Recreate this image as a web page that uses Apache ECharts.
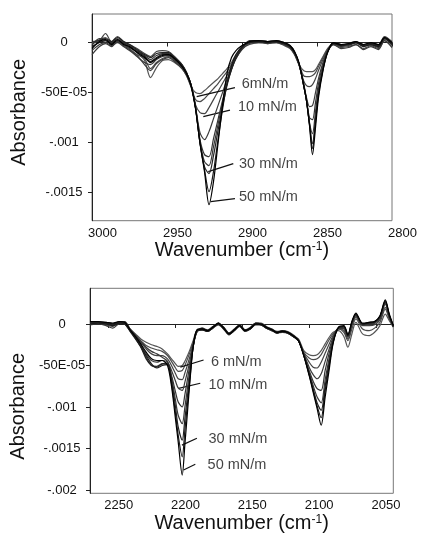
<!DOCTYPE html>
<html>
<head>
<meta charset="utf-8">
<script src="https://cdn.jsdelivr.net/npm/echarts@6/dist/echarts.min.js"></script>
<style>
  html, body { margin: 0; background: #fff; }
  #chart { width: 422px; height: 538px; }
</style>
</head>
<body>
<div id="chart"></div>
<script>
// absorbance values below are in units of 1e-5

// ---- upper panel: CH stretching region ----
const topWn = [3000, 2995, 2991, 2987, 2983, 2979, 2975, 2970, 2965, 2961, 2957, 2953, 2949, 2945, 2940, 2937, 2934,
  2931, 2928, 2925, 2922, 2919, 2916, 2913, 2910, 2907, 2904, 2900,
  2895, 2889, 2883, 2877, 2872, 2868, 2865, 2862, 2859,
  2857, 2855, 2853, 2851, 2849, 2846, 2843,
  2839, 2834, 2829, 2824, 2819, 2814, 2809, 2805, 2800]

const top1 = [-2, 3, 5, 0, 4, 0, -4, -10, -18, -35, -25, -18, -17, -20, -26, -33, -44,
  -50, -51, -48, -44, -40, -36, -31, -26, -20, -12, -5,
  0, 1, 0, 1, -2, -5, -12, -22, -28,
  -29, -29, -29, -27, -22, -14, -6,
  -1, -3, -2, 0, -3, -1, -4, 3, -1]
const top2 = [-5, 1, 2, -2, 2, -2, -6, -12, -16, -26, -20, -16, -14, -18, -25, -32, -43,
  -57, -59, -56, -51, -46, -41, -35, -29, -22, -14, -6,
  -2, 0, -1, 0, -3, -6, -12, -22, -33,
  -34, -34, -33, -30, -24, -15, -7,
  -2, -5, -4, -2, -6, -3, -6, 2, -4]
const top3 = [0, 2, 9, 1, 6, 1, -2, -6, -11, -14, -9, -8, -9, -14, -22, -30, -42,
  -62, -70, -71, -65, -57, -49, -41, -33, -24, -15, -6,
  1, 2, 1, 2, -1, -4, -10, -22, -38,
  -43, -44, -42, -36, -28, -17, -8,
  0, -2, -1, 1, -2, 0, -2, 6, 1]
const top4 = [-8, -2, 0, -3, 0, -4, -8, -14, -20, -22, -17, -14, -13, -17, -24, -31, -42,
  -64, -90, -97, -89, -76, -63, -50, -37, -26, -16, -7,
  -1, 0, 0, 1, -2, -5, -11, -22, -40,
  -55, -64, -63, -50, -36, -20, -8,
  -1, -4, -3, 0, -4, -2, -5, 4, -2]
const top5 = [-3, 4, 3, 0, 3, 0, -3, -8, -13, -17, -13, -11, -11, -15, -23, -30, -42,
  -64, -97, -112, -114, -96, -77, -58, -41, -27, -16, -6,
  2, 2, 1, 2, 0, -3, -9, -21, -41,
  -57, -75, -77, -60, -41, -22, -9,
  0, -2, -2, 1, -3, -1, -3, 5, 0]
const top6 = [-12, -4, -1, -4, 1, -3, -7, -13, -22, -28, -21, -17, -15, -19, -26, -33, -44,
  -65, -99, -119, -123, -104, -82, -60, -41, -26, -15, -5,
  0, 1, -1, 0, -2, -5, -11, -22, -42,
  -58, -80, -91, -69, -46, -24, -9,
  -2, -6, -5, -2, -7, -4, -7, 2, -5]
const top7 = [1, 2, 4, 1, 5, 1, -2, -7, -12, -15, -11, -10, -10, -15, -22, -30, -42,
  -65, -100, -124, -131, -113, -88, -64, -43, -27, -15, -5,
  1, 2, 1, 1, -1, -4, -10, -21, -42,
  -58, -81, -101, -76, -50, -26, -10,
  0, -3, -2, 0, -3, -1, -3, 4, -1]
const top8 = [-4, 0, 2, -1, 2, -1, -5, -9, -14, -19, -15, -12, -12, -16, -23, -31, -42,
  -65, -100, -127, -149, -129, -97, -67, -41, -23, -12, -4,
  0, 1, 0, 1, -1, -4, -10, -21, -42,
  -58, -82, -106, -80, -52, -27, -10,
  -1, -3, -2, 0, -4, -2, -4, 4, -2]
const top9 = [-6, 1, 3, -2, 3, -2, -4, -10, -15, -20, -16, -13, -12, -16, -24, -31, -43,
  -66, -101, -129, -162, -139, -101, -63, -31, -15, -8, -3,
  1, 2, 1, 2, 0, -3, -9, -20, -42,
  -58, -83, -112, -85, -55, -28, -10,
  0, -2, -1, 1, -2, 0, -2, 5, 0]

// ---- lower panel: CD stretching region ----
const botWn = [2264, 2258, 2252, 2247, 2242,
  2238, 2234, 2230, 2226, 2222, 2218, 2214, 2210,
  2206, 2203, 2200, 2198, 2195, 2193, 2191, 2189, 2187, 2184,
  2180, 2176, 2172, 2168, 2164, 2160, 2156, 2152, 2148, 2144, 2140, 2136, 2132, 2128, 2124, 2120, 2116, 2112,
  2108, 2104, 2100, 2097, 2094, 2091, 2088, 2085, 2082,
  2078, 2074, 2071, 2068, 2065, 2060, 2055, 2051, 2047, 2043, 2040, 2037]

const bot1 = [1, 2, 0, -2, 2,
  2, -6, -12, -18, -22, -25, -27, -30,
  -36, -42, -48, -51, -50, -45, -38, -30, -21, -8,
  -7, -8, -5, 1, -5, -13, -8, -2, -9, -5, 1, 0, -4, -8, -10, -8, -10, -15,
  -18, -32, -37, -38, -37, -32, -24, -16, -10,
  -8, -15, -28, -12, 2, -12, -14, -10, -2, 12, 4, -4]
const bot2 = [3, 2, 1, 0, 3,
  1, -7, -14, -20, -26, -29, -31, -33,
  -38, -45, -53, -57, -56, -50, -42, -33, -23, -9,
  -6, -9, -4, 0, -6, -12, -7, -3, -8, -6, 0, -1, -5, -7, -11, -9, -11, -14,
  -19, -34, -41, -43, -42, -37, -28, -19, -12,
  -6, -10, -20, -6, 6, -6, -8, -5, 2, 18, 6, -3]
const bot3 = [0, 1, -1, -3, 1,
  0, -8, -15, -22, -30, -36, -38, -38,
  -42, -50, -60, -66, -67, -59, -49, -38, -25, -9,
  -5, -7, -3, 1, -4, -11, -6, -1, -7, -4, 1, 1, -3, -6, -9, -8, -9, -13,
  -19, -35, -46, -52, -53, -46, -35, -24, -14,
  -6, -8, -18, -2, 8, -2, -2, -1, 5, 20, 8, -2]
const bot4 = [2, 3, 1, -1, 3,
  2, -7, -16, -25, -36, -44, -46, -44,
  -46, -56, -69, -77, -80, -70, -57, -43, -27, -10,
  -6, -8, -4, 0, -5, -12, -7, -2, -8, -5, 0, 0, -4, -7, -10, -9, -10, -14,
  -20, -36, -52, -61, -66, -60, -45, -30, -16,
  -5, -6, -16, 0, 10, -1, 0, 1, 7, 24, 10, -2]
const bot5 = [1, 2, 2, 0, 2,
  1, -8, -17, -27, -40, -50, -51, -48,
  -48, -62, -82, -94, -100, -85, -66, -47, -28, -9,
  -7, -9, -5, -1, -6, -13, -8, -3, -9, -6, -1, -1, -5, -8, -11, -10, -11, -15,
  -20, -37, -56, -69, -78, -80, -56, -35, -18,
  -5, -4, -14, 1, 11, 0, 1, 2, 8, 26, 9, -3]
const bot6 = [-1, 0, -2, -5, 1,
  3, -6, -13, -21, -28, -33, -36, -40,
  -45, -64, -92, -110, -120, -100, -76, -52, -29, -9,
  -5, -8, -4, 1, -5, -12, -7, -2, -8, -5, 0, 0, -4, -7, -10, -9, -10, -14,
  -20, -37, -58, -74, -88, -95, -67, -41, -20,
  -5, -5, -15, 0, 10, -1, 0, 1, 8, 25, 10, -2]
const bot7 = [2, 2, 1, -1, 2,
  0, -9, -18, -28, -42, -50, -52, -48,
  -47, -68, -100, -124, -140, -114, -86, -58, -30, -8,
  -6, -8, -3, 0, -4, -11, -7, -1, -7, -5, 1, 0, -4, -6, -10, -8, -10, -14,
  -20, -38, -60, -78, -95, -104, -75, -46, -21,
  -4, -3, -13, 2, 12, 0, 1, 2, 9, 27, 11, -3]
const bot8 = [0, 1, 0, -2, 1,
  1, -8, -17, -27, -38, -48, -53, -50,
  -49, -72, -108, -134, -160, -128, -95, -62, -30, -8,
  -7, -9, -4, 0, -5, -12, -8, -2, -8, -6, 0, -1, -5, -7, -11, -9, -11, -15,
  -20, -38, -61, -80, -99, -113, -80, -50, -22,
  -4, -3, -14, 2, 12, 0, 2, 3, 9, 28, 10, -3]
const bot9 = [3, 3, 2, 1, 3,
  2, -7, -15, -24, -34, -42, -44, -44,
  -50, -75, -115, -142, -182, -145, -105, -65, -30, -7,
  -6, -8, -4, 1, -5, -12, -7, -2, -8, -5, 0, 0, -4, -7, -10, -9, -10, -14,
  -20, -38, -62, -82, -102, -122, -88, -55, -23,
  -4, -2, -13, 3, 13, 1, 2, 3, 10, 29, 12, -2]

// axis ticks and their printed labels
const topXTicks = [3000, 2950, 2900, 2850, 2800]
const botXTicks = [2250, 2200, 2150, 2100, 2050]
const topYTicks = [0, -50, -100, -150]
const botYTicks = [0, -50, -100, -150, -200]
const yTickText = { '0': '0', '-50': '-50E-05', '-100': '-.001', '-150': '-.0015', '-200': '-.002' }

// surface pressure annotations (text anchor, leader start, leader end)
const topNoteText = ['6mN/m', '10 mN/m', '30 mN/m', '50 mN/m']
const topNoteAt = [[2900.2, -41], [2902.7, -64], [2902, -121], [2902, -154]]
const topLeadFrom = [[2930.2, -54], [2925.8, -74], [2922.5, -129], [2920.9, -159]]
const topLeadTo = [[2904.7, -45], [2908, -67.5], [2905.8, -121], [2904.7, -156]]
const botNoteText = ['6 mN/m', '10 mN/m', '30 mN/m', '50 mN/m']
const botNoteAt = [[2173.5, -46], [2175.3, -73], [2175.3, -139], [2176, -170]]
const botLeadFrom = [[2196.4, -52], [2197.7, -77.5], [2195.2, -146], [2194, -176]]
const botLeadTo = [[2179, -43.4], [2181.5, -71.4], [2184, -137.7], [2185.2, -169]]

const topCurves = [top1, top2, top3, top4, top5, top6, top7, top8, top9]
const botCurves = [bot1, bot2, bot3, bot4, bot5, bot6, bot7, bot8, bot9]
const curveColors = ['#555', '#4a4a4a', '#444', '#3a3a3a', '#333', '#3a3a3a', '#222', '#1a1a1a', '#000']

const FONT = '"Liberation Sans", Arial, Helvetica, sans-serif'

function xAxisOf(grid, min, max, ticks, padLeft) {
  return {
    gridIndex: grid,
    type: 'value',
    min, max,
    inverse: true,
    axisLine: { lineStyle: { color: '#222', width: 1 } },
    axisTick: { length: 4, lineStyle: { color: '#222' }, customValues: ticks },
    axisLabel: {
      customValues: ticks, fontSize: 13, color: '#111', margin: 6, padding: [0, 0, 0, padLeft],
      formatter: v => String(v),
    },
    splitLine: { show: false },
    name: 'Wavenumber (cm{sup|-1})',
    nameLocation: 'middle',
    nameGap: 16,
    nameTextStyle: {
      fontSize: 20, color: '#111',
      rich: { sup: { fontSize: 12, verticalAlign: 'top', lineHeight: 10, color: '#111' } },
    },
  }
}

function yAxisOf(grid, min, max, ticks, namePad) {
  return {
    gridIndex: grid,
    type: 'value',
    min, max,
    axisLine: { show: true, lineStyle: { color: '#222', width: 1 } },
    axisTick: { show: true, length: 4, lineStyle: { color: '#222' }, customValues: ticks },
    axisLabel: {
      customValues: ticks, fontSize: 13, color: '#111', margin: 28, align: 'center',
      padding: [7, 0, 0, 0],
      formatter: v => yTickText[String(v)] ?? String(v),
    },
    splitLine: { show: false },
    name: 'Absorbance',
    nameLocation: 'middle',
    nameGap: 62,
    nameRotate: 90,
    nameTextStyle: { fontSize: 20, color: '#111', padding: namePad },
  }
}

function curveSeries(wn, curves, axis) {
  return curves.map((vals, k) => ({
    type: 'line',
    xAxisIndex: axis,
    yAxisIndex: axis,
    data: wn.map((w, i) => [w, vals[i]]),
    showSymbol: false,
    smooth: 0.3,
    lineStyle: { width: 1.2, color: curveColors[k] },
    z: 2 + k,
  }))
}

function noteSeries(axis, texts, at, from, to) {
  return {
    type: 'scatter',
    xAxisIndex: axis,
    yAxisIndex: axis,
    symbolSize: 0,
    data: texts.map((t, i) => [at[i][0], at[i][1], t]),
    label: {
      show: true, position: 'right', distance: 0,
      fontSize: 14.5, color: '#111',
      formatter: p => p.data[2],
    },
    markLine: {
      silent: true,
      symbol: 'none',
      label: { show: false },
      lineStyle: { color: '#111', width: 1.2, type: 'solid' },
      data: from.map((f, i) => [{ coord: f }, { coord: to[i] }]),
    },
    z: 20,
  }
}

const chart = echarts.init(document.getElementById('chart'))
chart.setOption({
  animation: false,
  backgroundColor: '#fff',
  textStyle: { fontFamily: FONT },
  grid: [
    { left: 92, top: 14, width: 300, height: 206.7, show: true, borderColor: '#777', borderWidth: 1 },
    { left: 90, top: 288.3, width: 303.3, height: 205, show: true, borderColor: '#777', borderWidth: 1 },
  ],
  xAxis: [
    xAxisOf(0, 2800, 3000, topXTicks, 21),
    xAxisOf(1, 2037, 2264, botXTicks, 20),
  ],
  yAxis: [
    yAxisOf(0, -178, 28.5, topYTicks, [0, 0, 0, 10]),
    yAxisOf(1, -204, 43, botYTicks, [0, 31, 0, 0]),
  ],
  series: [
    ...curveSeries(topWn, topCurves, 0),
    ...curveSeries(botWn, botCurves, 1),
    noteSeries(0, topNoteText, topNoteAt, topLeadFrom, topLeadTo),
    noteSeries(1, botNoteText, botNoteAt, botLeadFrom, botLeadTo),
  ],
})
</script>
</body>
</html>
